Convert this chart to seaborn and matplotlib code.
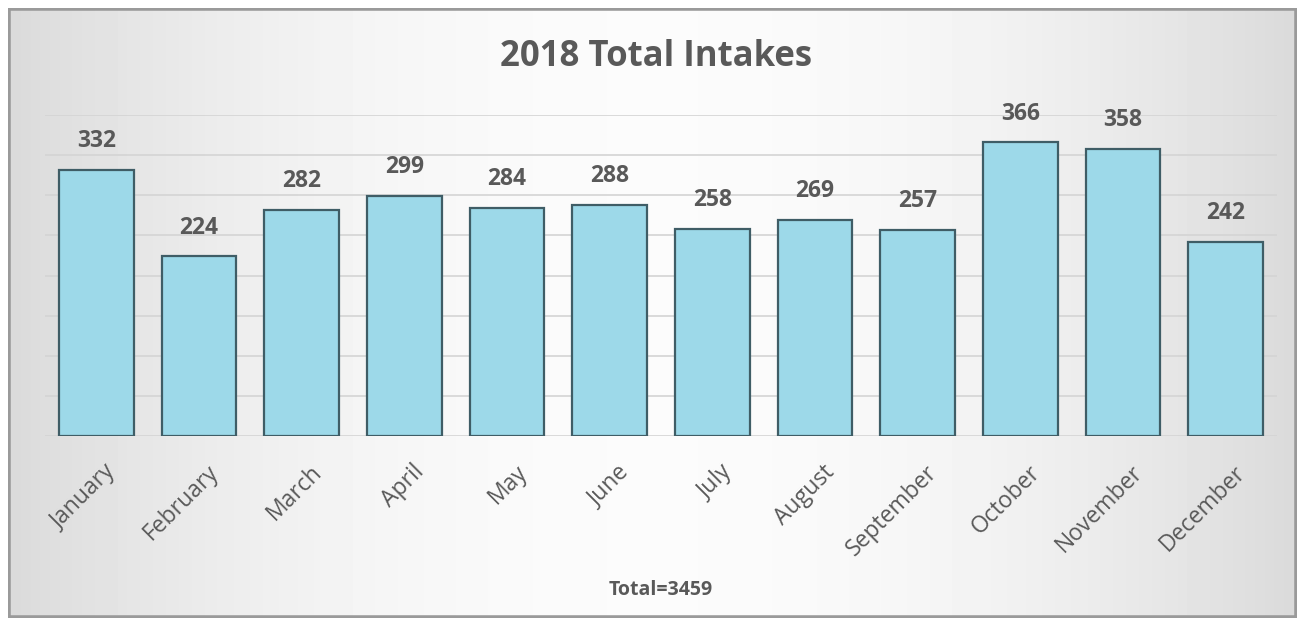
import numpy as np
import pandas as pd
import matplotlib
matplotlib.use("Agg")
import matplotlib.pyplot as plt
import matplotlib.transforms as mtrans
import seaborn as sb
from matplotlib.patches import Rectangle

months = ['January', 'February', 'March', 'April', 'May', 'June', 'July',
          'August', 'September', 'October', 'November', 'December']
intakes = [332, 224, 282, 299, 284, 288, 258, 269, 257, 366, 358, 242]
title = '2018 Total Intakes'
total_label = 'Total=3459'

sb.set_style('white')
plt.rcParams['font.family'] = ['Open Sans', 'DejaVu Sans']

text_grey = '#595959'
bar_blue = '#9DD9E9'

fig = plt.figure(figsize=(13.05, 6.26), dpi=100)
fig.patch.set_facecolor('white')

# gradient background inside the frame
bg = fig.add_axes([8 / 1305, 8 / 626, 1289 / 1305, 610 / 626], zorder=0)
xs = np.linspace(-1, 1, 400)
shade = 0.985 - 0.13 * xs ** 2
bg.imshow(np.tile(shade, (20, 1)), cmap='gray', vmin=0, vmax=1,
          aspect='auto', extent=[0, 1, 0, 1])
bg.add_patch(Rectangle((0, 0), 1, 1, transform=bg.transAxes, fill=False,
                       edgecolor='#9a9a9a', linewidth=4))
bg.set_axis_off()

ax = fig.add_axes([45 / 1305, 1 - 436 / 626, 1232 / 1305, 321 / 626], zorder=1)
ax.patch.set_alpha(0)

df = pd.DataFrame({'month': months, 'intakes': intakes})
sb.barplot(data=df, x='month', y='intakes', color=bar_blue, saturation=1,
           width=0.73, edgecolor='#3f5d66', linewidth=1.6, ax=ax, zorder=3)

ax.set_ylim(0, 400)
ax.set_yticks(np.arange(0, 401, 50))
ax.yaxis.grid(True, color='#d4d4d4', linewidth=1.2, zorder=0)
ax.tick_params(axis='y', left=False, labelleft=False)
ax.tick_params(axis='x', bottom=False, pad=14)
for s in ax.spines.values():
    s.set_visible(False)

ax.bar_label(ax.containers[0], padding=12, fontsize=16.5, fontweight='bold',
             color=text_grey)

ax.set_xticks(range(len(months)))
ax.set_xticklabels(months, rotation=45, ha='right', rotation_mode='anchor',
                   fontsize=16.5, color=text_grey)
# nudge the rotated month names a little to the right, like the original
shift = mtrans.ScaledTranslation(8 / 100, 0, fig.dpi_scale_trans)
for lab in ax.get_xticklabels():
    lab.set_transform(lab.get_transform() + shift)

ax.set_ylabel('')
ax.set_xlabel(total_label, fontsize=14, fontweight='bold', color=text_grey,
              labelpad=14)
ax.xaxis.set_label_coords(0.5, -(580 - 436) / 321)

fig.text(0.503, 1 - 57 / 626, title, ha='center', va='center', fontsize=25,
         fontweight='bold', color=text_grey)

fig.savefig('out.png', dpi=100)
